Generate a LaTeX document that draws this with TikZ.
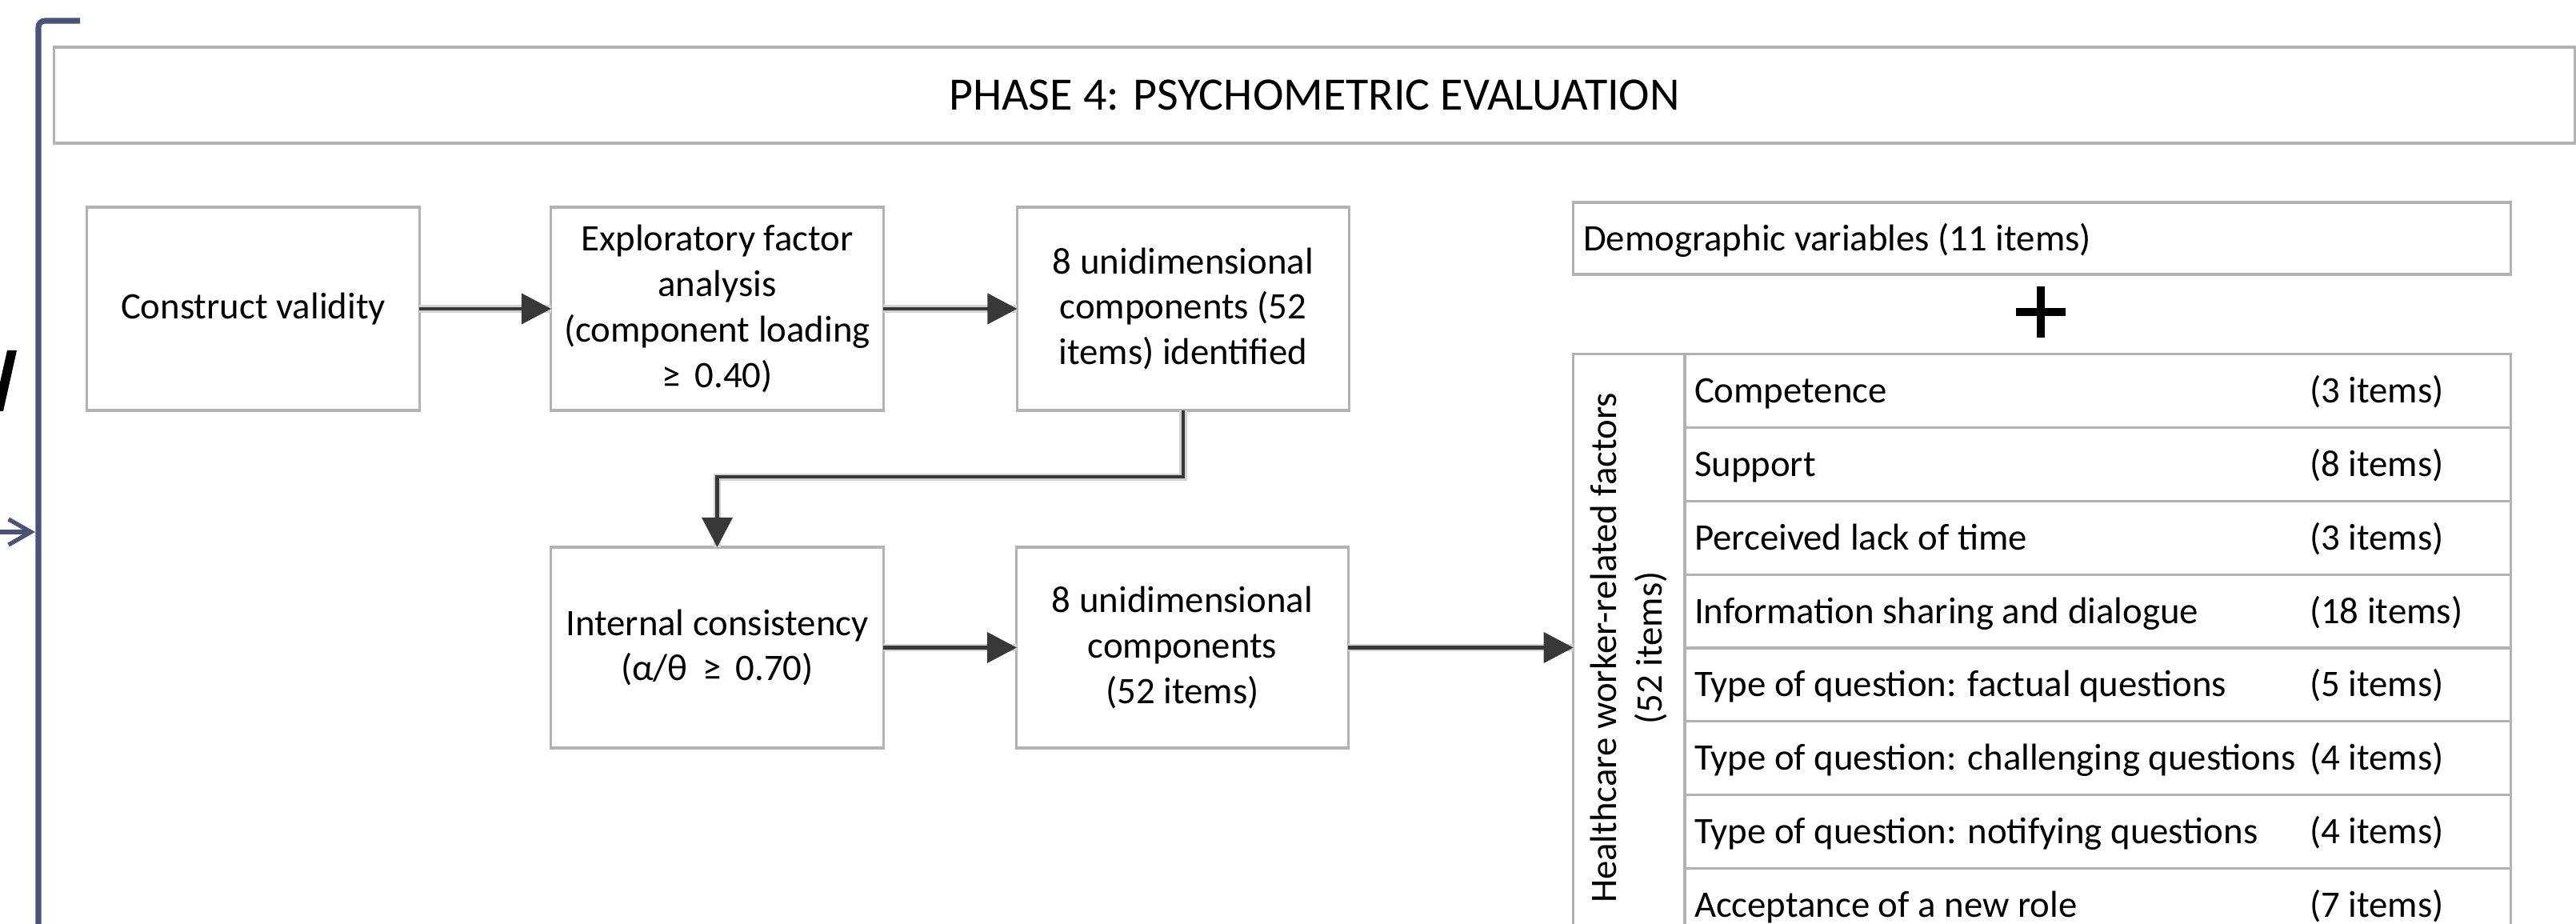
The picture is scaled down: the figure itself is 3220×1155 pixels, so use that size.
\documentclass[tikz,border=0pt]{standalone}
\usepackage{fontspec}
\setmainfont{Carlito}
\usetikzlibrary{arrows.meta}
\definecolor{slate}{HTML}{4B5278}
\definecolor{boxline}{HTML}{B2B2B2}
\definecolor{arr}{HTML}{383838}
\newcommand\bodyfs{\fontsize{13.3}{16.2}\selectfont}
\newcommand\titlefs{\fontsize{16.5}{19}\selectfont}
\begin{document}
\begin{tikzpicture}[x=0.01cm,y=-0.01cm,
  every node/.style={inner sep=0pt, outer sep=0pt},
  box/.style={draw=boxline, line width=0.9pt, fill=white, minimum width=4.15cm,
    minimum height=2.54cm, align=center, font=\bodyfs},
  flow/.style={draw=arr, line width=1.15pt, -{Triangle[length=0.37cm,width=0.38cm]},
    preaction={draw=gray!35, line width=2.6pt, -}},
  tline/.style={draw=boxline, line width=0.9pt},
  rowtxt/.style={anchor=west, font=\bodyfs, text height=0.4cm, text depth=0.1cm}]
\useasboundingbox (0,0) rectangle (3220,1155);
\clip (0,0) rectangle (3220,1155);
% outer bracket, arrow and cut-off glyph
\draw[slate, line width=2pt, rounded corners=0.08cm] (100,26) -- (48,26) -- (48,1170);
\coordinate (la) at (0,665);
\coordinate (lb) at (44,665);
\draw[slate, line width=1.5pt, line cap=round, -{Straight Barb[length=0.28cm,width=0.32cm]}] (la) -- (lb);
\fill[black] (9,438) -- (21,438) -- (4,514) -- (-8,514) -- cycle;
% title
\node[draw=boxline, line width=0.9pt, minimum width=31.5cm, minimum height=1.2cm, font=\titlefs]
  (title) at (1643,119) {PHASE 4: PSYCHOMETRIC EVALUATION};
% flow boxes
\node[box] (cv) at (316.5,386) {Construct validity};
\node[box] (efa) at (896.5,386) {Exploratory factor\\analysis\\(component loading\\≥\ \,0.40)};
\node[box] (uni) at (1479,386) {8 unidimensional\\components (52\\items) identified};
\node[box, minimum height=2.51cm] (ic) at (896.5,809.5) {Internal consistency\\(α/θ\ \,≥\ \,0.70)};
\node[box, minimum height=2.51cm, minimum width=4.14cm] (uni2) at (1478,809.5) {8 unidimensional\\components\\(52 items)};
% demographic box and plus
\node[draw=boxline, line width=0.9pt, minimum width=11.71cm, minimum height=0.9cm] (demo) at (2552.5,298) {};
\node[rowtxt] (demotxt) at (1979,298) {Demographic variables (11 items)};
\draw[black, line width=2.8pt] (2520,390) -- (2582,390);
\draw[black, line width=2.8pt] (2551,358) -- (2551,422);
% table
\node[draw=boxline, line width=0.9pt, minimum width=11.71cm, minimum height=7.34cm] (tab) at (2552.5,810) {};
\draw[tline] (2106,443) -- (2106,1177);
\foreach \k in {1,...,7} \draw[tline] (2106,{443+\k*91.75}) -- (3138,{443+\k*91.75});
\node[rotate=90, align=center, font=\bodyfs] (hw) at (2036,810) {Healthcare worker-related factors\\(52 items)};
\foreach \t/\n [count=\k] in {Competence/3, Support/8, Perceived lack of time/3,
    Information sharing and dialogue/18, Type of question: factual questions/5,
    Type of question: challenging questions/4, Type of question: notifying questions/4,
    Acceptance of a new role/7} {
  \node[rowtxt] (row\k) at (2118,{443+(\k-0.5)*91.75}) {\t};
  \node[rowtxt] (items\k) at (2887,{443+(\k-0.5)*91.75}) {(\n\ items)};
}
% connectors
\draw[flow] (cv) -- (efa);
\draw[flow] (efa) -- (uni);
\draw[flow] (uni.south) -- ++(0,83) -| (ic.north);
\draw[flow] (ic) -- (uni2);
\draw[flow] (uni2.east) -- (uni2.east -| tab.west);
\end{tikzpicture}
\end{document}
